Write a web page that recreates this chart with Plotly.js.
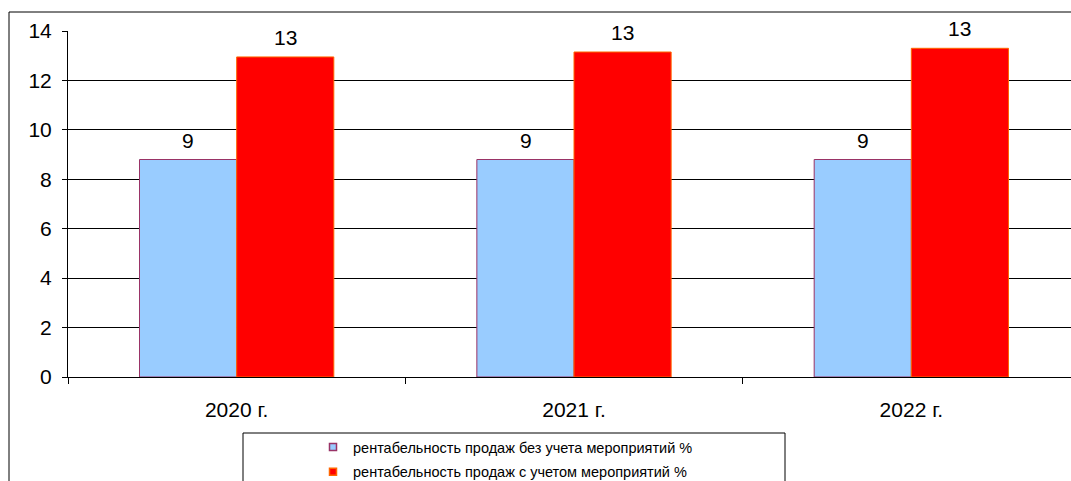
<!DOCTYPE html>
<html>
<head>
<meta charset="utf-8">
<script src="https://cdn.plot.ly/plotly-3.0.1.min.js"></script>
<style>
  html, body { margin: 0; padding: 0; background: #fff; overflow: hidden; }
  #chart { width: 1090px; height: 500px; }
</style>
</head>
<body>
<div id="chart"></div>
<script>
// Years on the category axis
const years = ['2020 г.', '2021 г.', '2022 г.'];

// Return on sales, %
const withoutMeasures = [8.8, 8.8, 8.8];
const withMeasures = [12.95, 13.15, 13.3];

const seriesNames = [
  'рентабельность продаж без учета мероприятий %',
  'рентабельность продаж с учетом мероприятий %'
];

const yTicks = [0, 2, 4, 6, 8, 10, 12, 14];

const font = 'Liberation Sans, Arial, sans-serif';

const fills = ['#99CCFF', '#FF0000'];
const edges = ['#993366', '#FF6600'];
const series = [withoutMeasures, withMeasures];

// Bars (legend is carried by the small square-marker entries below)
const traces = series.map((vals, k) => ({
  type: 'bar',
  name: seriesNames[k],
  x: years,
  y: vals,
  showlegend: false,
  marker: { color: fills[k], line: { color: edges[k], width: 1 } },
  hoverinfo: 'x+y'
}));

// Legend entries with small square swatches
series.forEach((vals, k) => {
  traces.push({
    type: 'scatter',
    mode: 'markers',
    name: seriesNames[k],
    x: [null],
    y: [null],
    legendgroup: 'g' + k,
    marker: { symbol: 'square', size: 7, color: fills[k], line: { color: edges[k], width: 1.5 } },
    hoverinfo: 'skip'
  });
});

// Value labels above each bar, rounded to whole percent
const half = 48.5; // half of a bar's width in px, to sit over each bar of the pair
const annotations = [];
series.forEach((vals, k) => {
  vals.forEach((v, i) => {
    annotations.push({
      xref: 'x', yref: 'y',
      x: years[i], y: v,
      text: String(Math.round(v)),
      showarrow: false,
      xanchor: 'center', yanchor: 'bottom',
      xshift: k === 0 ? -half : half,
      yshift: 6,
      font: { family: font, size: 21, color: '#000' }
    });
  });
});

// Plot area spans 68..1080 px horizontally and 31..377 px vertically
const L = 68, R = 1080, T = 31, B = 377;
const px = v => (v - L) / (R - L);
const py = v => (B - v) / (B - T);

const layout = {
  width: 1090,
  height: 500,
  margin: { l: L, r: 1090 - R, t: T, b: 500 - B, pad: 0 },
  paper_bgcolor: '#fff',
  plot_bgcolor: '#fff',
  font: { family: font, color: '#000' },
  barmode: 'group',
  bargap: 0.424,
  bargroupgap: 0,
  showlegend: true,
  legend: {
    orientation: 'v',
    x: px(313),
    xanchor: 'left',
    y: py(431),
    yanchor: 'top',
    bgcolor: 'rgba(0,0,0,0)',
    borderwidth: 0,
    font: { family: font, size: 14.5, color: '#000' },
    tracegroupgap: 3,
    traceorder: 'grouped',
    itemclick: false
  },
  annotations: annotations,
  xaxis: {
    type: 'category',
    showline: true,
    linecolor: '#000',
    linewidth: 1,
    ticks: 'outside',
    tickson: 'boundaries',
    ticklen: 6,
    tickcolor: '#000',
    showgrid: false,
    tickfont: { family: font, size: 21, color: '#000' },
    ticklabelstandoff: 14,
    zeroline: false
  },
  yaxis: {
    range: [0, 14],
    tickvals: yTicks,
    ticktext: yTicks.map(String),
    showline: true,
    linecolor: '#000',
    linewidth: 1,
    ticks: 'outside',
    ticklen: 5,
    tickcolor: '#000',
    showgrid: true,
    gridcolor: '#000',
    gridwidth: 1,
    zeroline: false,
    tickfont: { family: font, size: 21, color: '#000' },
    ticklabelstandoff: 6
  },
  shapes: [
    // outer chart frame
    {
      type: 'rect', xref: 'paper', yref: 'paper',
      x0: px(9), x1: px(1085), y0: py(495), y1: py(12),
      line: { color: '#000', width: 1 }, fillcolor: 'rgba(0,0,0,0)', layer: 'below'
    },
    // legend frame
    {
      type: 'rect', xref: 'paper', yref: 'paper',
      x0: px(243), x1: px(785), y0: py(495), y1: py(433),
      line: { color: '#000', width: 1 }, fillcolor: '#fff', layer: 'below'
    }
  ]
};

Plotly.newPlot('chart', traces, layout, { displayModeBar: false, staticPlot: true });
</script>
</body>
</html>
